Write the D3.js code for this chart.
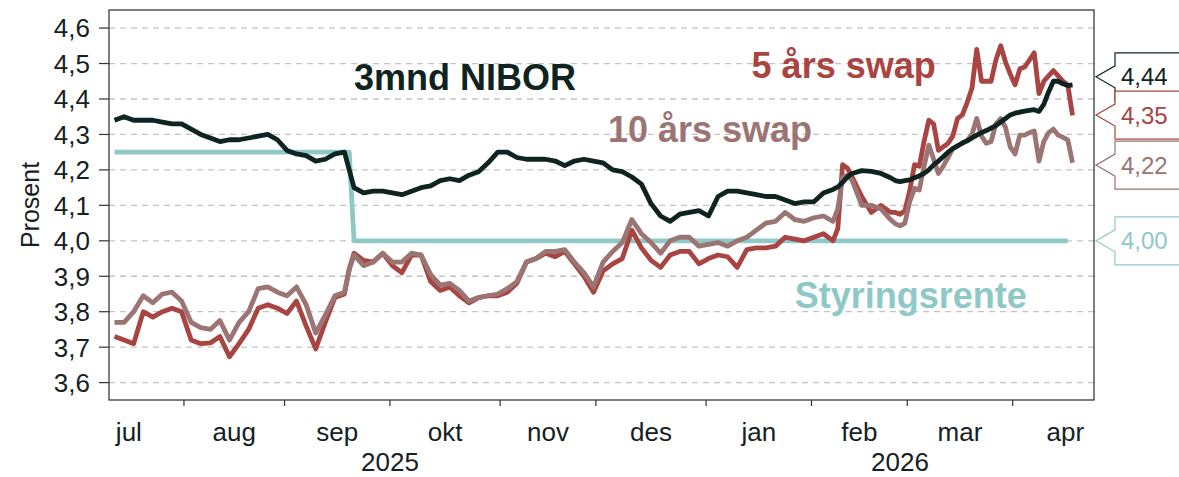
<!DOCTYPE html>
<html>
<head>
<meta charset="utf-8">
<script src="https://cdn.jsdelivr.net/npm/d3@7"></script>
<style>
  body { margin: 0; background: #fff; }
  svg text { font-family: "Liberation Sans", Arial, sans-serif; }
</style>
</head>
<body>
<div id="chart"></div>
<script>
// observation dates (business days)
const dates = [
  "2025-07-11","2025-07-15","2025-07-17","2025-07-21","2025-07-23","2025-07-25","2025-07-29","2025-07-31",
  "2025-08-04","2025-08-06","2025-08-08","2025-08-12","2025-08-14","2025-08-18","2025-08-20","2025-08-22",
  "2025-08-26","2025-08-28","2025-09-01","2025-09-03","2025-09-05","2025-09-09","2025-09-11","2025-09-15",
  "2025-09-17","2025-09-18","2025-09-19","2025-09-23","2025-09-25","2025-09-29","2025-10-01","2025-10-03",
  "2025-10-07","2025-10-09","2025-10-13","2025-10-15","2025-10-17","2025-10-21","2025-10-23","2025-10-27",
  "2025-10-29","2025-10-31","2025-11-04","2025-11-06","2025-11-10","2025-11-12","2025-11-14","2025-11-18",
  "2025-11-20","2025-11-24","2025-11-26","2025-11-28","2025-12-02","2025-12-04","2025-12-08","2025-12-10",
  "2025-12-12","2025-12-16","2025-12-18","2025-12-22","2025-12-24","2025-12-26","2025-12-30","2026-01-01",
  "2026-01-05","2026-01-07","2026-01-09","2026-01-13","2026-01-15","2026-01-19","2026-01-21","2026-01-23",
  "2026-01-27","2026-01-29","2026-02-02","2026-02-04","2026-02-06","2026-02-09","2026-02-10","2026-02-11",
  "2026-02-12","2026-02-16","2026-02-18","2026-02-20","2026-02-24","2026-02-25","2026-02-26","2026-02-27",
  "2026-03-02","2026-03-03","2026-03-04","2026-03-05","2026-03-06","2026-03-09","2026-03-10","2026-03-11",
  "2026-03-12","2026-03-13","2026-03-16","2026-03-17","2026-03-18","2026-03-19","2026-03-20","2026-03-23",
  "2026-03-24","2026-03-25","2026-03-26","2026-03-27","2026-03-30","2026-03-31","2026-04-01","2026-04-02",
  "2026-04-03","2026-04-06","2026-04-07","2026-04-08","2026-04-09","2026-04-10","2026-04-13","2026-04-14",
  "2026-04-15","2026-04-16","2026-04-17"
];

const nibor3m = [
  4.34,4.35,4.34,4.34,4.34,4.335,4.33,4.33,
  4.315,4.30,4.29,4.28,4.285,4.285,4.29,4.295,
  4.30,4.285,4.255,4.245,4.24,4.225,4.23,4.245,
  4.25,4.20,4.15,4.135,4.14,4.14,4.135,4.13,
  4.14,4.15,4.155,4.17,4.175,4.17,4.185,4.195,
  4.22,4.25,4.25,4.235,4.23,4.23,4.23,4.225,
  4.212,4.225,4.23,4.225,4.22,4.20,4.195,4.18,
  4.16,4.105,4.07,4.055,4.075,4.08,4.085,4.07,
  4.125,4.14,4.14,4.135,4.13,4.125,4.125,4.115,
  4.105,4.11,4.11,4.135,4.145,4.152,4.165,4.18,
  4.19,4.198,4.196,4.19,4.178,4.17,4.167,4.17,
  4.172,4.178,4.183,4.19,4.20,4.214,4.225,4.237,
  4.25,4.26,4.268,4.276,4.282,4.29,4.298,4.305,
  4.311,4.318,4.325,4.335,4.345,4.355,4.36,4.363,
  4.366,4.368,4.37,4.365,4.385,4.42,4.45,4.45,
  4.443,4.438,4.44
];

const swap5y = [
  3.73,3.72,3.71,3.80,3.785,3.80,3.81,3.80,
  3.72,3.71,3.712,3.73,3.673,3.71,3.75,3.81,
  3.82,3.81,3.795,3.83,3.76,3.695,3.77,3.84,
  3.85,3.92,3.965,3.945,3.94,3.965,3.93,3.91,
  3.96,3.96,3.885,3.86,3.87,3.845,3.825,3.84,
  3.845,3.845,3.855,3.88,3.94,3.95,3.965,3.955,
  3.97,3.935,3.90,3.855,3.915,3.935,3.95,4.03,
  3.98,3.945,3.925,3.96,3.97,3.97,3.935,3.95,
  3.96,3.955,3.925,3.975,3.98,3.98,3.985,4.01,
  4.005,4.00,4.01,4.02,4.00,4.035,4.215,4.205,
  4.18,4.125,4.08,4.10,4.08,4.08,4.075,4.085,
  4.14,4.215,4.21,4.28,4.34,4.33,4.255,4.265,
  4.275,4.295,4.345,4.355,4.39,4.43,4.54,4.45,
  4.45,4.45,4.51,4.55,4.505,4.47,4.44,4.485,
  4.49,4.51,4.53,4.415,4.45,4.465,4.48,4.465,
  4.45,4.44,4.354
];

const swap10y = [
  3.77,3.77,3.80,3.845,3.825,3.85,3.855,3.83,
  3.77,3.755,3.75,3.775,3.72,3.77,3.80,3.865,
  3.87,3.855,3.845,3.87,3.82,3.74,3.79,3.845,
  3.855,3.92,3.96,3.93,3.94,3.965,3.94,3.94,
  3.965,3.96,3.905,3.875,3.88,3.86,3.83,3.84,
  3.845,3.85,3.865,3.885,3.94,3.95,3.97,3.97,
  3.975,3.94,3.91,3.87,3.94,3.97,3.995,4.06,
  4.02,3.995,3.965,4.00,4.01,4.01,3.985,3.99,
  3.995,3.985,4.00,4.01,4.03,4.05,4.055,4.08,
  4.06,4.055,4.065,4.07,4.055,4.09,4.178,4.185,
  4.17,4.10,4.10,4.09,4.06,4.048,4.042,4.05,
  4.11,4.148,4.143,4.21,4.27,4.23,4.19,4.21,
  4.235,4.26,4.267,4.275,4.283,4.30,4.345,4.295,
  4.275,4.28,4.33,4.345,4.32,4.265,4.245,4.298,
  4.298,4.305,4.31,4.225,4.28,4.305,4.315,4.298,
  4.292,4.285,4.22
];

const policyDates = ["2025-07-11", "2025-09-18", "2025-09-19", "2026-04-16"];
const policyRate = [4.25, 4.25, 4.00, 4.00];

const yTicks = [3.6, 3.7, 3.8, 3.9, 4.0, 4.1, 4.2, 4.3, 4.4, 4.5, 4.6];
const monthNames = ["jul", "aug", "sep", "okt", "nov", "des", "jan", "feb", "mar", "apr"];
const yearNames = ["2025", "2026"];

const colors = {
    nibor: "#0f2420",
    swap5: "#a84442",
    swap10: "#9b7573",
    policy: "#8ec9c8"
};
const inkColor = "#15211f";

// ---- layout
const margin = {top: 10, right: 85, bottom: 77, left: 109};
const width = 1179 - margin.left - margin.right;
const height = 477 - margin.top - margin.bottom;

const svg = d3.select("#chart").append("svg")
    .attr("width", 1179)
    .attr("height", 477);

const g = svg.append("g")
    .attr("transform", `translate(${margin.left},${margin.top})`);

// business day calendar used as the x axis (weekends are skipped)
const keyFmt = d3.timeFormat("%Y-%m-%d");
const bizDays = d3.timeDay.range(new Date(2025, 6, 1), new Date(2026, 6, 1))
    .filter(d => d.getDay() !== 0 && d.getDay() !== 6);
const dayIndex = new Map(bizDays.map((d, i) => [keyFmt(d), i]));

const x = d3.scaleLinear().domain([6.85, 212.48]).range([0, width]);
const y = d3.scaleLinear().domain([3.551, 4.651]).range([height, 0]);

// month starts -> first business day index (jul 2025 .. may 2026)
const monthStarts = d3.timeMonth.range(new Date(2025, 6, 1), new Date(2026, 5, 1))
    .map(m => bizDays.findIndex(d => d >= m));

// grid
g.append("g").selectAll("line")
    .data(yTicks)
    .enter().append("line")
    .attr("x1", 0).attr("x2", width)
    .attr("y1", d => y(d)).attr("y2", d => y(d))
    .attr("stroke", "#c3c3c3")
    .attr("stroke-width", 1.3)
    .attr("stroke-dasharray", "6,5");

// series
const mk = (vals, ds) => vals.map((v, i) => ({i: dayIndex.get(ds[i]), v: v}));
const line = d3.line().x(d => x(d.i)).y(d => y(d.v));

const series = [
    {key: "policy", data: mk(policyRate, policyDates)},
    {key: "swap5", data: mk(swap5y, dates)},
    {key: "swap10", data: mk(swap10y, dates)},
    {key: "nibor", data: mk(nibor3m, dates)}
];

g.append("g").selectAll("path")
    .data(series)
    .enter().append("path")
    .attr("d", d => line(d.data))
    .attr("fill", "none")
    .attr("stroke", d => colors[d.key])
    .attr("stroke-width", 4.8)
    .attr("stroke-linejoin", "round");

// frame
g.append("rect")
    .attr("width", width).attr("height", height)
    .attr("fill", "none")
    .attr("stroke", "#2a2a2a")
    .attr("stroke-width", 1.2);

// y axis ticks + labels
const comma = v => d3.format(".1f")(v).replace(".", ",");
g.append("g").selectAll("line")
    .data(yTicks)
    .enter().append("line")
    .attr("x1", -10).attr("x2", 0)
    .attr("y1", d => y(d)).attr("y2", d => y(d))
    .attr("stroke", "#333")
    .attr("stroke-width", 1.2);

g.append("g").selectAll("text")
    .data(yTicks)
    .enter().append("text")
    .attr("x", -19)
    .attr("y", d => y(d))
    .attr("dy", "0.36em")
    .attr("text-anchor", "end")
    .attr("font-size", 26)
    .attr("fill", inkColor)
    .text(d => comma(d));

g.append("text")
    .attr("transform", `translate(${30 - margin.left},${height / 2}) rotate(-90)`)
    .attr("dy", "0.36em")
    .attr("text-anchor", "middle")
    .attr("font-size", 25)
    .attr("fill", inkColor)
    .text("Prosent");

// x axis: month ticks at boundaries, labels in the middle of each month
const bounds = monthStarts.map(i => i - 0.5);
g.append("g").selectAll("line")
    .data(bounds.filter(b => b > x.domain()[0] && b < x.domain()[1]))
    .enter().append("line")
    .attr("x1", d => x(d)).attr("x2", d => x(d))
    .attr("y1", height).attr("y2", height + 6)
    .attr("stroke", "#333")
    .attr("stroke-width", 1.2);

g.append("g").selectAll("text")
    .data(monthNames)
    .enter().append("text")
    .attr("x", (d, i) => x((bounds[i] + bounds[i + 1]) / 2))
    .attr("y", height + 41)
    .attr("text-anchor", "middle")
    .attr("font-size", 26)
    .attr("fill", inkColor)
    .text(d => d);

// year labels: 2025 spans jul-des, 2026 from jan to the panel edge
const yearCenters = [
    (x(bounds[0]) + x(bounds[6])) / 2,
    (x(bounds[6]) + width) / 2
];
g.append("g").selectAll("text")
    .data(yearNames)
    .enter().append("text")
    .attr("x", (d, i) => yearCenters[i])
    .attr("y", height + 71)
    .attr("text-anchor", "middle")
    .attr("font-size", 26)
    .attr("fill", inkColor)
    .text(d => d);

// series names inside the panel
const names = [
    {text: "3mnd NIBOR", key: "nibor", date: "2025-09-19", v: 4.425},
    {text: "5 års swap", key: "swap5", date: "2026-01-14", v: 4.459},
    {text: "10 års swap", key: "swap10", date: "2025-12-03", v: 4.278},
    {text: "Styringsrente", key: "policy", date: "2026-01-27", v: 3.81}
];
g.append("g").selectAll("text")
    .data(names)
    .enter().append("text")
    .attr("x", d => x(dayIndex.get(d.date)))
    .attr("y", d => y(d.v))
    .attr("font-size", 36)
    .attr("font-weight", "bold")
    .attr("fill", d => colors[d.key])
    .text(d => d.text);

// end-value call-outs to the right of the panel
const callouts = [
    {key: "nibor", last: nibor3m[nibor3m.length - 1], at: 4.4626},
    {key: "swap5", last: swap5y[swap5y.length - 1], at: 4.3546},
    {key: "swap10", last: swap10y[swap10y.length - 1], at: 4.2135},
    {key: "policy", last: policyRate[policyRate.length - 1], at: 4.00}
];
const fmt2 = v => d3.format(".2f")(v).replace(".", ",");
const tip = width + 2, base = width + 21, boxEnd = width + 120;
const cg = g.append("g").selectAll("g")
    .data(callouts)
    .enter().append("g");

cg.append("path")
    .attr("d", d => {
        const cy = y(d.at);
        return `M${tip},${cy} L${base},${cy - 11} L${base},${cy - 24} L${boxEnd},${cy - 24}` +
            ` L${boxEnd},${cy + 24} L${base},${cy + 24} L${base},${cy + 11} Z`;
    })
    .attr("fill", "#fff")
    .attr("stroke", d => colors[d.key])
    .attr("stroke-width", 1.2);

cg.append("text")
    .attr("x", base + 6)
    .attr("y", d => y(d.at))
    .attr("dy", "0.36em")
    .attr("font-size", 24)
    .attr("fill", d => colors[d.key])
    .text(d => fmt2(d.last));
</script>
</body>
</html>
